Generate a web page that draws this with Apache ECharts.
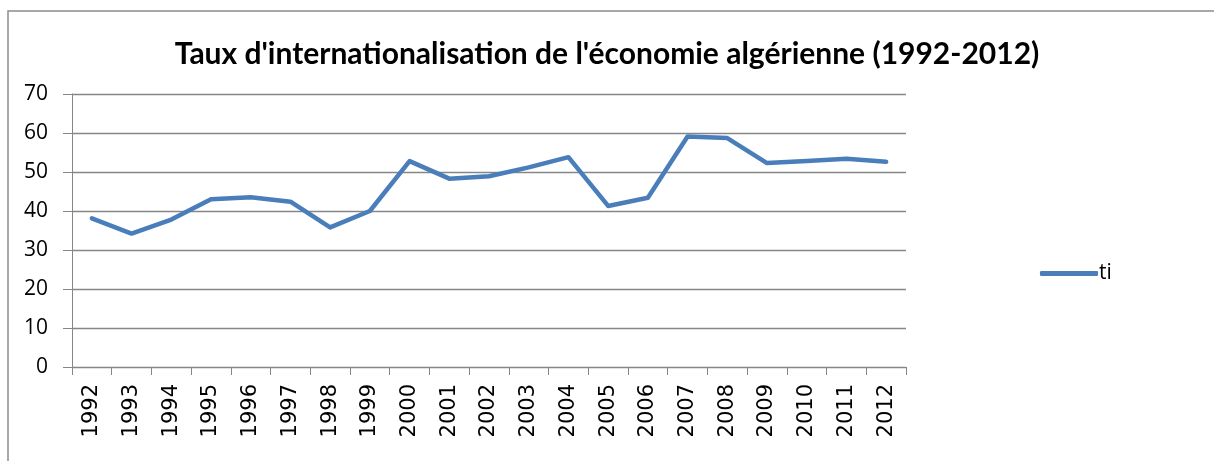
<!DOCTYPE html>
<html>
<head>
<meta charset="utf-8">
<script src="https://cdn.jsdelivr.net/npm/echarts@6/dist/echarts.min.js"></script>
<style>
  html, body { margin: 0; padding: 0; background: #fff; }
  #main { width: 1214px; height: 461px; }
</style>
</head>
<body>
<div id="main"></div>
<script>
// années
var years = ['1992', '1993', '1994', '1995', '1996', '1997', '1998', '1999', '2000', '2001', '2002',
  '2003', '2004', '2005', '2006', '2007', '2008', '2009', '2010', '2011', '2012'];
// taux d'internationalisation (ti)
var tiValues = [38.1, 34.2, 37.8, 43.0, 43.5, 42.4, 35.8, 40.0, 52.8, 48.3, 48.9,
  51.2, 53.8, 41.3, 43.4, 59.1, 58.7, 52.3, 52.8, 53.4, 52.6];

var chart = echarts.init(document.getElementById('main'), null, { renderer: 'canvas' });

var option = {
  backgroundColor: '#fff',
  animation: false,
  title: {
    text: "Taux d'internationalisation de l'économie algérienne (1992-2012)",
    left: 'center',
    top: 34,
    textStyle: {
      fontFamily: 'Lato',
      fontWeight: 'bold',
      fontSize: 30,
      color: '#000'
    }
  },
  legend: {
    data: ['ti'],
    left: 1035,
    top: 258,
    icon: 'roundRect',
    itemWidth: 58,
    itemHeight: 5,
    itemGap: 0,
    textStyle: { fontFamily: 'Open Sans', fontSize: 21, color: '#000', padding: [0, 0, 0, -4] }
  },
  grid: {
    left: 72,
    right: 308,
    top: 94,
    height: 273,
    containLabel: false
  },
  graphic: [{
    type: 'polyline',
    shape: { points: [[8, 461], [8, 11], [1214, 11]] },
    style: { stroke: '#8c8c8c', lineWidth: 1.5, fill: null },
    silent: true
  }],
  xAxis: {
    type: 'category',
    data: years,
    boundaryGap: true,
    axisLine: { lineStyle: { color: '#868686', width: 1 } },
    axisTick: { show: true, length: 8, lineStyle: { color: '#868686' } },
    axisLabel: {
      rotate: 90,
      margin: 17,
      interval: 0,
      fontFamily: 'DejaVu Sans',
      fontSize: 21,
      color: '#000'
    },
    splitLine: { show: false }
  },
  yAxis: {
    type: 'value',
    min: 0,
    max: 70,
    interval: 10,
    axisLine: { show: true, lineStyle: { color: '#868686', width: 1 } },
    axisTick: { show: true, length: 9, lineStyle: { color: '#868686' } },
    axisLabel: {
      margin: 24,
      fontFamily: 'Open Sans',
      fontSize: 21,
      color: '#000'
    },
    splitLine: { lineStyle: { color: '#868686', width: 1.3 } }
  },
  series: [{
    name: 'ti',
    type: 'line',
    data: tiValues,
    symbol: 'none',
    color: '#4a7ebb',
    lineStyle: { width: 4.5, color: '#4a7ebb', cap: 'round', join: 'round' }
  }]
};
chart.setOption(option);
</script>
</body>
</html>
